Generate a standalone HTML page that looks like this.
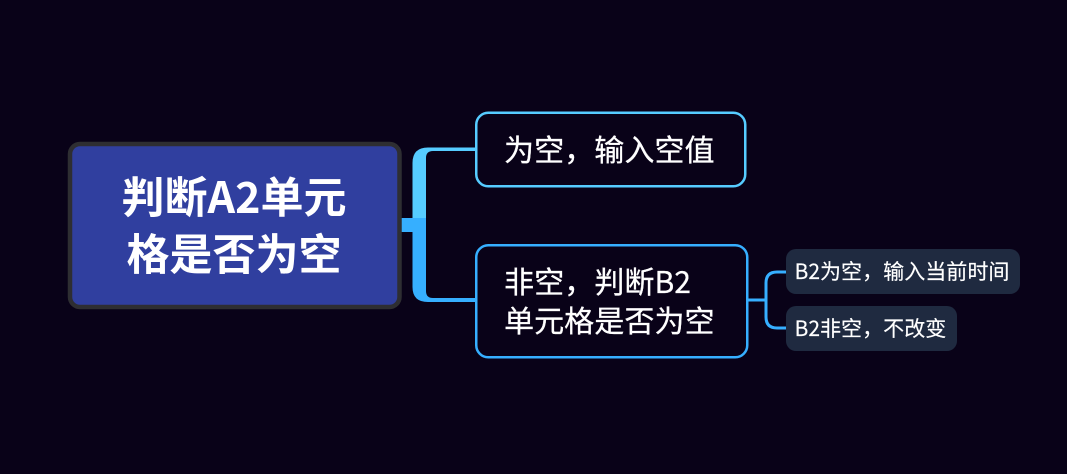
<!DOCTYPE html>
<html><head><meta charset="utf-8"><style>
html,body{margin:0;padding:0;width:1067px;height:474px;overflow:hidden;background:#090218}
svg{display:block}
text{fill:#fff;font-family:"Noto Sans CJK SC",sans-serif}
.r{font-size:43px;font-weight:700;text-anchor:middle}
.m{font-size:30.100px;stroke:#fff;stroke-width:.25}
.s{font-size:21.050px;stroke:#fff;stroke-width:.15}
</style></head><body>
<svg width="1067" height="474" viewBox="0 0 1067 474" xmlns="http://www.w3.org/2000/svg">
<rect width="1067" height="474" fill="#090218"/>
<path d="M476 147.500 H428 Q412.500 147.500 412.500 163 V218 H426 V158 Q426 151 433 151 H476 Z" fill="#56ccff"/>
<path d="M401 218 H426 V291 Q426 298 433 298 H476 V302 H428 Q412.500 302 412.500 287 V232 H401 Z" fill="#36afff"/>
<rect x="70" y="144" width="329.500" height="163" rx="10" fill="#303f9f" stroke="#2e2e32" stroke-width="4.500"/>
<text class="r" x="234" y="213">判断A2单元</text>
<text class="r" x="234" y="270">格是否为空</text>
<rect x="476.250" y="112.750" width="269" height="73.500" rx="12" fill="#090218" stroke="#56ccff" stroke-width="2.500"/>
<text class="m" x="504" y="161">为空，输入空值</text>
<rect x="476.250" y="245.250" width="271" height="112" rx="12" fill="#090218" stroke="#36afff" stroke-width="2.500"/>
<text class="m" x="504" y="293">非空，判断B2</text>
<text class="m" x="504" y="332">单元格是否为空</text>
<path d="M748 300 H766 M786 272 H777 Q766 272 766 283 V317 Q766 328 777 328 H786" fill="none" stroke="#36afff" stroke-width="3"/>
<rect x="786" y="249" width="234" height="45" rx="10" fill="#1f2a40"/>
<text class="s" x="794.500" y="279">B2为空，输入当前时间</text>
<rect x="786" y="306" width="171" height="45" rx="10" fill="#1f2a40"/>
<text class="s" x="794.500" y="336">B2非空，不改变</text>
</svg>
</body></html>
